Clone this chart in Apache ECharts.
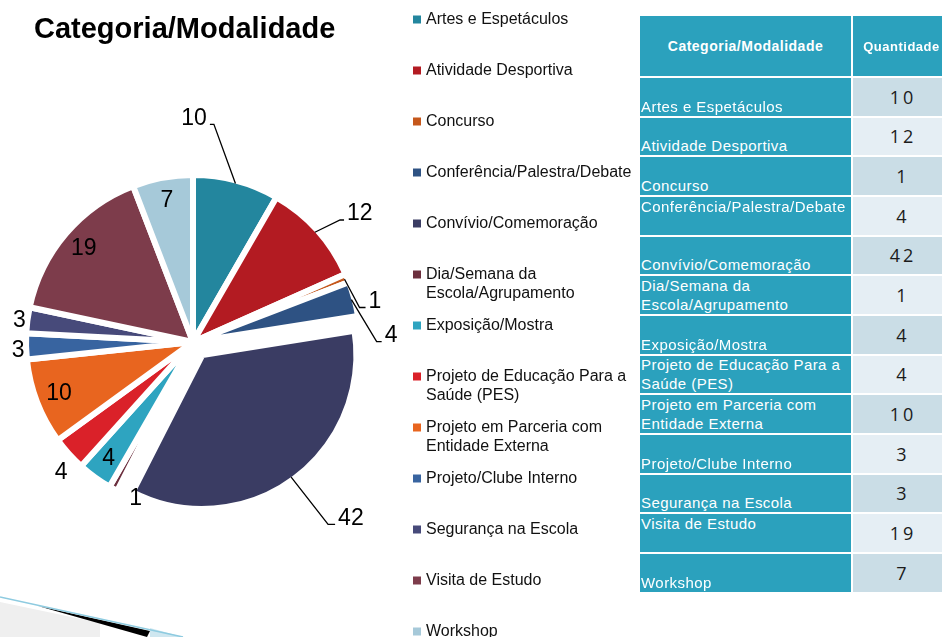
<!DOCTYPE html>
<html>
<head>
<meta charset="utf-8">
<title>Categoria/Modalidade</title>
<script src="https://cdn.jsdelivr.net/npm/echarts@6/dist/echarts.min.js"></script>
<style>
  html, body { margin: 0; padding: 0; background: #fff; overflow: hidden; }
  #main { position: absolute; left: 0; top: 0; width: 942px; height: 637px; }
  #tabela {
    position: absolute; left: 640px; top: 16px; z-index: 2;
    display: grid; grid-template-columns: 211px 97px;
    grid-template-rows: 60px; grid-auto-rows: 37.67px; gap: 2px;
    font-family: 'Liberation Sans', Arial, sans-serif;
  }
  .cab {
    background: #2ba1bd; color: #fff; font-weight: bold; white-space: nowrap; overflow: hidden;
    display: flex; align-items: center; justify-content: center; letter-spacing: 0.5px;
  }
  .cat {
    background: #2ba1bd; color: #fff; font-size: 15px; line-height: 19px; letter-spacing: 0.45px;
    white-space: pre; overflow: hidden; display: flex; padding-left: 1px;
  }
  .qtd {
    display: flex; align-items: center; justify-content: center; padding-left: 3px;
    font-family: 'Open Sans', sans-serif; font-size: 18px; letter-spacing: 3px; color: #1b1b1b;
  }
</style>
</head>
<body>
<div id="main"></div>
<div id="tabela"></div>
<script>
// dados
var categories = [
  'Artes e Espetáculos', 'Atividade Desportiva', 'Concurso', 'Conferência/Palestra/Debate',
  'Convívio/Comemoração', 'Dia/Semana da Escola/Agrupamento', 'Exposição/Mostra',
  'Projeto de Educação Para a Saúde (PES)', 'Projeto em Parceria com Entidade Externa',
  'Projeto/Clube Interno', 'Segurança na Escola', 'Visita de Estudo', 'Workshop'
];
var quantities = [10, 12, 1, 4, 42, 1, 4, 4, 10, 3, 3, 19, 7];
var tableHeader = ['Categoria/Modalidade', 'Quantidade'];

// estilo
var sliceColors = ['#23869e', '#b31b22', '#c5571b', '#2e5283', '#3a3c63', '#6c2f3e', '#2ea4c0',
  '#da2129', '#e8651f', '#3864a0', '#474a7a', '#7d3c4b', '#a6c9d9'];
var cellAlign = ['flex-end', 'flex-end', 'flex-end', 'flex-start', 'flex-end', 'flex-end', 'flex-end',
  'flex-end', 'flex-end', 'flex-end', 'flex-end', 'flex-start', 'flex-end'];
// posição das etiquetas: in = dentro, line = com linha [ang, len, len2, lado], free = [dx, dy]
var labelPlace = [
  {type: 'line', ang: -20, len: 63, len2: 4, side: -1},
  {type: 'line', ang: 64, len: 28, len2: 4, side: 1},
  {type: 'line', ang: 152, len: 32, len2: 6, side: 1},
  {type: 'line', ang: 149, len: 49, len2: 5, side: 1},
  {type: 'line', ang: 142, len: 60, len2: 7, side: 1},
  {type: 'free', dx: 21, dy: 13},
  {type: 'in'},
  {type: 'free', dx: -10, dy: 21},
  {type: 'in'},
  {type: 'free', dx: -11, dy: 4},
  {type: 'free', dx: -11, dy: 0},
  {type: 'in'},
  {type: 'in'}
];

// fatia destacada (Convívio) desenhada numa segunda série, afastada do centro
var explodeIdx = 4, explode = 16;
var cx = 193, cy = 342, R = 167, R2 = 154;

function wrap(text) {
  var words = text.split(' '), lines = [], cur = '';
  words.forEach(function (w) {
    if (cur && (cur + ' ' + w).length > 26) { lines.push(cur); cur = w; }
    else cur = cur ? cur + ' ' + w : w;
  });
  lines.push(cur);
  return lines.join('\n');
}

var total = quantities.reduce(function (a, b) { return a + b; }, 0);
var midAngles = [];
var acc = 0;
quantities.forEach(function (v) { midAngles.push((acc + v / 2) / total * 2 * Math.PI); acc += v; });

var pieMain = {cx: cx, cy: cy, r: R};
var pieOut = {
  cx: cx + explode * Math.sin(midAngles[explodeIdx]),
  cy: cy - explode * Math.cos(midAngles[explodeIdx]),
  r: R2
};

// tabela
var tab = document.getElementById('tabela');
tableHeader.forEach(function (h, k) {
  var d = document.createElement('div');
  d.className = 'cab';
  d.style.fontSize = k === 0 ? '14px' : '13px';
  d.textContent = h;
  tab.appendChild(d);
});
categories.forEach(function (c, i) {
  var a = document.createElement('div');
  a.className = 'cat';
  a.style.alignItems = cellAlign[i];
  a.textContent = wrap(c);
  var b = document.createElement('div');
  b.className = 'qtd';
  b.style.background = i % 2 === 0 ? '#cadde6' : '#e5eef4';
  b.textContent = quantities[i];
  tab.appendChild(a);
  tab.appendChild(b);
});

function placeLabel(p) {
  var i = p.dataIndex, a = midAngles[i], pl = labelPlace[i];
  var g = i === explodeIdx ? pieOut : pieMain;
  var sx = Math.sin(a), sy = -Math.cos(a);
  if (pl.type === 'in') {
    return {x: g.cx + 0.86 * g.r * sx, y: g.cy + 0.86 * g.r * sy, align: 'center', verticalAlign: 'middle'};
  }
  var ex = g.cx + (g.r - 3) * sx, ey = g.cy + (g.r - 3) * sy;
  if (pl.type === 'free') {
    return {x: ex + pl.dx, y: ey + pl.dy, align: 'center', verticalAlign: 'middle'};
  }
  var t = pl.ang * Math.PI / 180;
  var p1 = [ex + pl.len * Math.sin(t), ey - pl.len * Math.cos(t)];
  var p2 = [p1[0] + pl.side * pl.len2, p1[1]];
  return {
    x: p2[0] + pl.side * 3, y: p2[1] - 6,
    align: pl.side > 0 ? 'left' : 'right', verticalAlign: 'middle',
    labelLinePoints: [[ex, ey], p1, p2]
  };
}

var hidden = {color: 'transparent', borderColor: 'transparent', borderWidth: 0, opacity: 0};

// kind: 'main' = fatias normais, 'out' = fatia destacada, 'labels' = só as etiquetas por cima
function pieSeries(kind) {
  var g = kind === 'out' ? pieOut : pieMain;
  return {
    type: 'pie',
    center: [g.cx, g.cy],
    radius: g.r,
    startAngle: 90,
    clockwise: true,
    avoidLabelOverlap: false,
    silent: true,
    z: kind === 'labels' ? 5 : 2,
    emphasis: {disabled: true},
    itemStyle: {borderColor: '#fff', borderWidth: 6, borderJoin: 'round'},
    label: {show: kind === 'labels', fontSize: 23, color: '#000', fontFamily: 'Liberation Sans', formatter: '{c}'},
    labelLine: {lineStyle: {color: '#000', width: 1.3}},
    labelLayout: kind === 'labels' ? placeLabel : null,
    data: categories.map(function (name, i) {
      var visible = kind === 'main' ? i !== explodeIdx : kind === 'out' ? i === explodeIdx : false;
      return {
        name: name,
        value: quantities[i],
        itemStyle: visible ? {color: sliceColors[i]} : {color: 'transparent', borderColor: 'transparent', borderWidth: 0},
        label: {position: labelPlace[i].type === 'in' ? 'inside' : 'outside'},
        labelLine: {show: kind === 'labels' && labelPlace[i].type === 'line'}
      };
    })
  };
}

var myChart = echarts.init(document.getElementById('main'));
var option = {
  animation: false,
  title: {
    text: 'Categoria/Modalidade',
    left: 29,
    top: 10,
    textStyle: {fontSize: 29, fontWeight: 'bold', color: '#000', fontFamily: 'Liberation Sans'}
  },
  legend: {
    orient: 'vertical',
    left: 413,
    top: -9,
    height: 1200,
    padding: 0,
    itemWidth: 8,
    itemHeight: 8,
    itemGap: -6,
    icon: 'rect',
    selectedMode: false,
    textStyle: {fontSize: 16, lineHeight: 19, color: '#111', fontFamily: 'Liberation Sans'},
    formatter: function (name) {
      var t = wrap(name);
      return '\n' + t + (t.indexOf('\n') < 0 ? '\n' : '');
    },
    data: categories.map(function (name, i) {
      return {name: name, itemStyle: {color: sliceColors[i], borderWidth: 0, opacity: 1}};
    })
  },
  graphic: [
    {type: 'polygon', silent: true, shape: {points: [[0, 602], [100, 623], [100, 637], [0, 637]]}, style: {fill: '#efefef'}},
    {type: 'polygon', silent: true, shape: {points: [[150, 628], [183, 637], [150, 637]]}, style: {fill: '#cfe7f0'}},
    {type: 'polygon', silent: true, shape: {points: [[38, 606], [150, 631], [147, 637]]}, style: {fill: '#000'}},
    {type: 'line', silent: true, shape: {x1: 0, y1: 597, x2: 183, y2: 637}, style: {stroke: '#8ecbe0', lineWidth: 1.5}}
  ],
  series: [pieSeries('main'), pieSeries('out'), pieSeries('labels')]
};
myChart.setOption(option);
</script>
</body>
</html>
